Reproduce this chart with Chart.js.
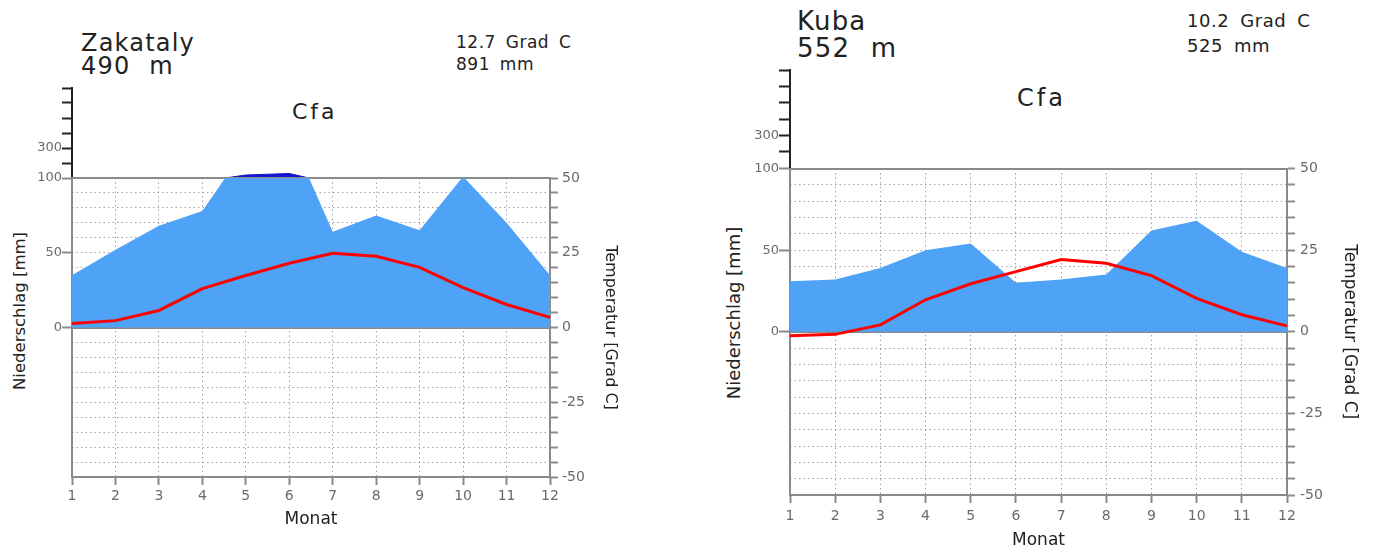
<!DOCTYPE html>
<html lang="de">
<head>
<meta charset="utf-8">
<title>Klimadiagramme Zakataly / Kuba</title>
<script src="https://cdn.jsdelivr.net/npm/chart.js@4.4.1/dist/chart.umd.min.js"></script>
<style>
  html, body { margin: 0; padding: 0; background: #fff; width: 1379px; height: 554px; overflow: hidden; }
  canvas { position: absolute; }
  .txt { position: absolute; font-family: "DejaVu Sans", sans-serif; color: #222; line-height: 1; white-space: nowrap; }
  .vt { transform: translate(-50%, -50%) rotate(-90deg); }
</style>
</head>
<body>

<div class="txt" style="left:81px;top:31px;font-size:24px;letter-spacing:1.2px;">Zakataly</div>
<div class="txt" style="left:81px;top:54px;font-size:24px;letter-spacing:1.2px;word-spacing:10px;">490 m</div>
<div class="txt" style="left:292px;top:101px;font-size:22px;letter-spacing:3px;">Cfa</div>
<div class="txt" style="left:456px;top:34px;font-size:17px;letter-spacing:0.5px;word-spacing:4px;">12.7 Grad C</div>
<div class="txt" style="left:456px;top:56px;font-size:17px;letter-spacing:0.5px;word-spacing:4px;">891 mm</div>
<div class="txt vt" style="left:20px;top:311px;font-size:16.5px;">Niederschlag [mm]</div>

<div class="txt" style="left:797px;top:8px;font-size:26px;letter-spacing:1.2px;">Kuba</div>
<div class="txt" style="left:797px;top:35px;font-size:26px;letter-spacing:1.2px;word-spacing:11px;">552 m</div>
<div class="txt" style="left:1017px;top:86px;font-size:24px;letter-spacing:3px;">Cfa</div>
<div class="txt" style="left:1187px;top:12px;font-size:18px;letter-spacing:0.5px;word-spacing:5px;">10.2 Grad C</div>
<div class="txt" style="left:1187px;top:37px;font-size:18px;letter-spacing:0.5px;word-spacing:5px;">525 mm</div>
<div class="txt vt" style="left:734px;top:313px;font-size:18px;">Niederschlag [mm]</div>

<canvas id="zakHigh" width="640" height="101" style="left:0;top:78px;"></canvas>
<canvas id="zakLow"  width="640" height="384" style="left:0;top:170px;"></canvas>
<canvas id="kubHigh" width="679" height="109" style="left:700px;top:60px;"></canvas>
<canvas id="kubLow"  width="679" height="394" style="left:700px;top:160px;"></canvas>

<script>
// ── Data ────────────────────────────────────────────────────────

const MONTHS = [1, 2, 3, 4, 5, 6, 7, 8, 9, 10, 11, 12];

// Zakataly, 490 m
const ZAK_PRECIP = [35, 52, 68, 78, 120, 130, 64, 75, 65, 101, 70, 35];   // mm
const ZAK_TEMP   = [1.3, 2.3, 5.7, 13.0, 17.4, 21.5, 24.8, 23.8, 20.1, 13.3, 7.7, 3.4]; // °C

// Kuba, 552 m
const KUBA_PRECIP = [31, 32, 39, 50, 54, 30, 32, 35, 62, 68, 49, 39];
const KUBA_TEMP   = [-1.2, -0.8, 2.1, 9.8, 14.7, 18.4, 22.1, 21.0, 17.2, 10.2, 5.2, 1.8];

// axis ticks / labels
const PRECIP_TICKS  = [0, 50, 100];          // lower left axis (mm)
const HIGH_TICKS    = [200, 300, 400, 500, 600, 700]; // compressed part above 100 mm
const HIGH_LABELS   = [300];
const TEMP_LABELS   = [50, 25, 0, -25, -50];
const FRAME_LINES   = [-50, 0, 50];          // solid lines (°C)

// ── Styles ──────────────────────────────────────────────────────

const FONT        = "DejaVu Sans";
const GRID_DOTS   = "rgba(100,100,125,0.6)";
const AXIS_GRAY   = "#8a8a8a";
const LABEL_GRAY  = "#6a6a6a";
const PRECIP_FILL = "#4fa3f7";
const PRECIP_HIGH = "#1414cc";
const TEMP_RED    = "#ff0000";

// ── Lower part: 0-100 mm / -50..50 °C ───────────────────────────

function lowerChart(id, precip, temp, g) {
  return new Chart(document.getElementById(id), {
    type: "line",
    data: {
      labels: MONTHS,
      datasets: [
        {
          label: "Temperatur",
          data: temp,
          yAxisID: "yT",
          borderColor: TEMP_RED,
          borderWidth: 3,
          pointRadius: 0,
          fill: false,
          tension: 0,
          order: 1,
        },
        {
          label: "Niederschlag",
          data: precip,
          yAxisID: "yP",
          backgroundColor: PRECIP_FILL,
          borderWidth: 0,
          pointRadius: 0,
          fill: "origin",
          tension: 0,
          order: 2,
        },
      ],
    },
    options: {
      responsive: false,
      animation: false,
      events: [],
      layout: { padding: { top: g.padTop, right: 0, bottom: 0, left: 0 } },
      plugins: { legend: { display: false }, tooltip: { enabled: false } },
      scales: {
        x: {
          type: "category",
          offset: false,
          z: 1,
          grid: {
            color: GRID_DOTS, lineWidth: 1, offset: false,
            tickLength: 8, tickColor: AXIS_GRAY, tickWidth: 2,
          },
          border: { color: AXIS_GRAY, width: 2, dash: [1.5, 3] },
          ticks: {
            color: LABEL_GRAY, font: { family: FONT, size: 14 },
            padding: g.xTickPad, maxRotation: 0, autoSkip: false,
          },
          title: {
            display: true, text: "Monat", color: "#222",
            font: { family: FONT, size: 17 },
            padding: { top: 0, bottom: g.monatPad },
          },
          afterFit: (s) => { s.height = g.xAxisH; },
        },
        yP: {
          type: "linear",
          position: "left",
          min: -100,
          max: 100,
          afterBuildTicks: (s) => { s.ticks = PRECIP_TICKS.map(v => ({ value: v })); },
          ticks: {
            color: LABEL_GRAY, font: { family: FONT, size: 13, lineHeight: 0.6 },
            padding: 0, autoSkip: false,
          },
          grid: {
            drawOnChartArea: false,
            tickLength: g.leftTick, tickColor: AXIS_GRAY, tickWidth: 2,
          },
          border: { color: AXIS_GRAY, width: 2 },
          afterFit: (s) => { s.width = g.leftW; },
        },
        yT: {
          type: "linear",
          position: "right",
          min: -50,
          max: 50,
          z: 1,
          ticks: {
            stepSize: 5, autoSkip: false,
            color: LABEL_GRAY, font: { family: FONT, size: 14, lineHeight: 0.5 },
            padding: g.rightTickPad,
            callback: (v) => TEMP_LABELS.includes(v) ? String(v) : "",
          },
          grid: {
            color: GRID_DOTS, lineWidth: 1,
            tickLength: 8, tickColor: AXIS_GRAY, tickWidth: 2,
          },
          border: { color: AXIS_GRAY, width: 2, dash: [1.5, 3] },
          title: {
            display: true, text: "Temperatur [Grad C]", color: "#222",
            font: { family: FONT, size: g.tempTitleSize },
            padding: { top: g.tempTitlePad, bottom: 0 },
          },
          afterFit: (s) => { s.width = g.rightW; },
        },
        yZ: {
          type: "linear",
          position: "right",
          min: -50,
          max: 50,
          z: 2,
          afterBuildTicks: (s) => { s.ticks = FRAME_LINES.map(v => ({ value: v })); },
          ticks: { display: false },
          grid: { color: AXIS_GRAY, lineWidth: 2, drawTicks: false },
          border: { display: false },
          afterFit: (s) => { s.width = 0; },
        },
      },
    },
  });
}

// ── Upper part: compressed scale above 100 mm ───────────────────

function upperChart(id, precip, g) {
  return new Chart(document.getElementById(id), {
    type: "line",
    data: {
      labels: MONTHS,
      datasets: [
        {
          label: "Niederschlag > 100 mm",
          data: precip,
          yAxisID: "yH",
          backgroundColor: PRECIP_HIGH,
          borderColor: PRECIP_HIGH,
          borderWidth: 1,
          pointRadius: 0,
          fill: { value: 100 },
          tension: 0,
        },
      ],
    },
    options: {
      responsive: false,
      animation: false,
      events: [],
      layout: { padding: { top: 10, right: g.rightW, bottom: 1, left: 0 } },
      plugins: { legend: { display: false }, tooltip: { enabled: false } },
      scales: {
        x: { type: "category", offset: false, display: false },
        yH: {
          type: "linear",
          position: "left",
          min: 100,
          max: 700,
          afterBuildTicks: (s) => { s.ticks = HIGH_TICKS.map(v => ({ value: v })); },
          ticks: {
            color: LABEL_GRAY, font: { family: FONT, size: 13, lineHeight: 0.1 },
            padding: 0, autoSkip: false,
            callback: (v) => HIGH_LABELS.includes(v) ? String(v) : "",
          },
          grid: {
            drawOnChartArea: false,
            tickLength: g.leftTick, tickColor: "#222", tickWidth: 2,
          },
          border: { color: "#222", width: 2 },
          afterFit: (s) => { s.width = g.leftW; },
        },
      },
    },
  });
}

// ── Render ──────────────────────────────────────────────────────

const ZAK_GEO = {
  padTop: 8, leftW: 72, rightW: 90, xAxisH: 77, xTickPad: 3, monatPad: 24,
  rightTickPad: 4, tempTitleSize: 16, tempTitlePad: 20.4, leftTick: 10,
};
const KUBA_GEO = {
  padTop: 8, leftW: 90, rightW: 92, xAxisH: 59, xTickPad: 5, monatPad: 3,
  rightTickPad: 5, tempTitleSize: 17, tempTitlePad: 19.8, leftTick: 11,
};

upperChart("zakHigh", ZAK_PRECIP, ZAK_GEO);
lowerChart("zakLow", ZAK_PRECIP, ZAK_TEMP, ZAK_GEO);
upperChart("kubHigh", KUBA_PRECIP, KUBA_GEO);
lowerChart("kubLow", KUBA_PRECIP, KUBA_TEMP, KUBA_GEO);
</script>
</body>
</html>
